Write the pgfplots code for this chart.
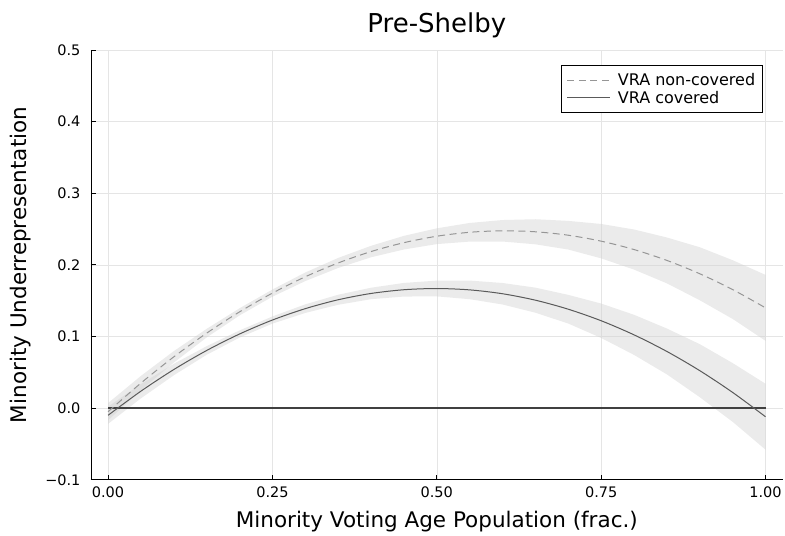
\documentclass[border=0pt]{standalone}
\usepackage{fontspec}
\setmainfont{DejaVu Sans}
\usepackage{pgfplots}
\pgfplotsset{compat=1.18}
\usepackage{pgfplotstable}
\usepgfplotslibrary{fillbetween}

\definecolor{ribbon}{RGB}{209,209,209}
\definecolor{dashc}{RGB}{150,150,150}
\definecolor{solidc}{RGB}{90,90,90}
\definecolor{zeroc}{RGB}{64,64,64}

\pgfplotstableread{
x     nc      nclo    nchi    c       clo     chi
0.00 -0.0050 -0.0170  0.0070 -0.0100 -0.0220  0.0020
0.05  0.0350  0.0250  0.0450  0.0237  0.0137  0.0337
0.10  0.0716  0.0636  0.0796  0.0539  0.0459  0.0619
0.15  0.1047  0.0987  0.1107  0.0805  0.0745  0.0865
0.20  0.1344  0.1294  0.1394  0.1035  0.0985  0.1085
0.25  0.1606  0.1556  0.1656  0.1230  0.1180  0.1280
0.30  0.1834  0.1774  0.1894  0.1389  0.1329  0.1449
0.35  0.2027  0.1957  0.2097  0.1513  0.1443  0.1583
0.40  0.2186  0.2106  0.2266  0.1601  0.1521  0.1681
0.45  0.2310  0.2215  0.2405  0.1653  0.1558  0.1748
0.50  0.2400  0.2290  0.2510  0.1670  0.1560  0.1780
0.55  0.2455  0.2325  0.2585  0.1651  0.1521  0.1781
0.60  0.2476  0.2326  0.2626  0.1597  0.1447  0.1747
0.65  0.2462  0.2287  0.2637  0.1507  0.1332  0.1682
0.70  0.2414  0.2214  0.2614  0.1381  0.1181  0.1581
0.75  0.2331  0.2091  0.2571  0.1220  0.0980  0.1460
0.80  0.2214  0.1934  0.2494  0.1023  0.0743  0.1303
0.85  0.2062  0.1742  0.2382  0.0791  0.0471  0.1111
0.90  0.1876  0.1506  0.2246  0.0523  0.0153  0.0893
0.95  0.1655  0.1245  0.2065  0.0219 -0.0191  0.0629
1.00  0.1400  0.0940  0.1860 -0.0120 -0.0580  0.0340
}\data

\pgfplotstableread{
x y
0 0
1 0
}\zero

\begin{document}
\begin{tikzpicture}
\path (0,0) rectangle (785bp,531bp);
\begin{axis}[
  at={(91bp,51bp)}, anchor=south west,
  width=692bp, height=430bp, scale only axis,
  xmin=-0.026, xmax=1.026, ymin=-0.1, ymax=0.5,
  axis x line*=bottom, axis y line*=left,
  axis line style={black, line width=0.8bp},
  tick align=inside,
  major tick length=5bp,
  major tick style={black, line width=0.8bp},
  xtick={0,0.25,0.5,0.75,1},
  xticklabels={0.00,0.25,0.50,0.75,1.00},
  ytick={-0.1,0,0.1,0.2,0.3,0.4,0.5},
  yticklabels={−0.1,0.0,0.1,0.2,0.3,0.4,0.5},
  grid=major,
  major grid style={draw=black!10, line width=0.6bp},
  ticklabel style={font=\fontsize{14.5bp}{17bp}\selectfont},
  yticklabel style={xshift=-7bp},
  xticklabel style={yshift=-3bp},
  title={Pre-Shelby},
  title style={font=\fontsize{26bp}{30bp}\selectfont, at={(axis description cs:0.5,1)}, anchor=center, yshift=18.5bp},
  xlabel={Minority Voting Age Population (frac.)},
  ylabel={Minority Underrepresentation},
  label style={font=\fontsize{21.5bp}{25bp}\selectfont},
  xlabel style={at={(axis description cs:0.5,0)}, anchor=center, yshift=-42bp},
  ylabel style={at={(axis description cs:0,0.5)}, anchor=center, yshift=70bp},
  legend style={at={(axis description cs:0.971,0.965)}, anchor=north east,
    draw=black, line width=0.8bp, font=\fontsize{16bp}{19bp}\selectfont,
    inner xsep=5bp, inner ysep=6bp, row sep=0bp, column sep=5bp},
  legend cell align=left,
  legend image code/.code={\draw[#1, line width=1bp] (0bp,0bp) -- (43bp,0bp);},
]
\addplot[zeroc, line width=1.6bp, forget plot] table[x=x, y=y] {\zero};

\addplot[draw=none, name path=nclo, forget plot] table[x=x, y=nclo] {\data};
\addplot[draw=none, name path=nchi, forget plot] table[x=x, y=nchi] {\data};
\addplot[ribbon, fill opacity=0.44, draw=none, forget plot] fill between[of=nclo and nchi];

\addplot[draw=none, name path=clo, forget plot] table[x=x, y=clo] {\data};
\addplot[draw=none, name path=chi, forget plot] table[x=x, y=chi] {\data};
\addplot[ribbon, fill opacity=0.44, draw=none, forget plot] fill between[of=clo and chi];

\addplot[dashc, line width=1bp, dash pattern=on 7bp off 4.5bp, smooth] table[x=x, y=nc] {\data};
\addlegendentry{VRA non-covered}
\addplot[solidc, line width=1bp, smooth] table[x=x, y=c] {\data};
\addlegendentry{VRA covered}
\end{axis}
\end{tikzpicture}
\end{document}
